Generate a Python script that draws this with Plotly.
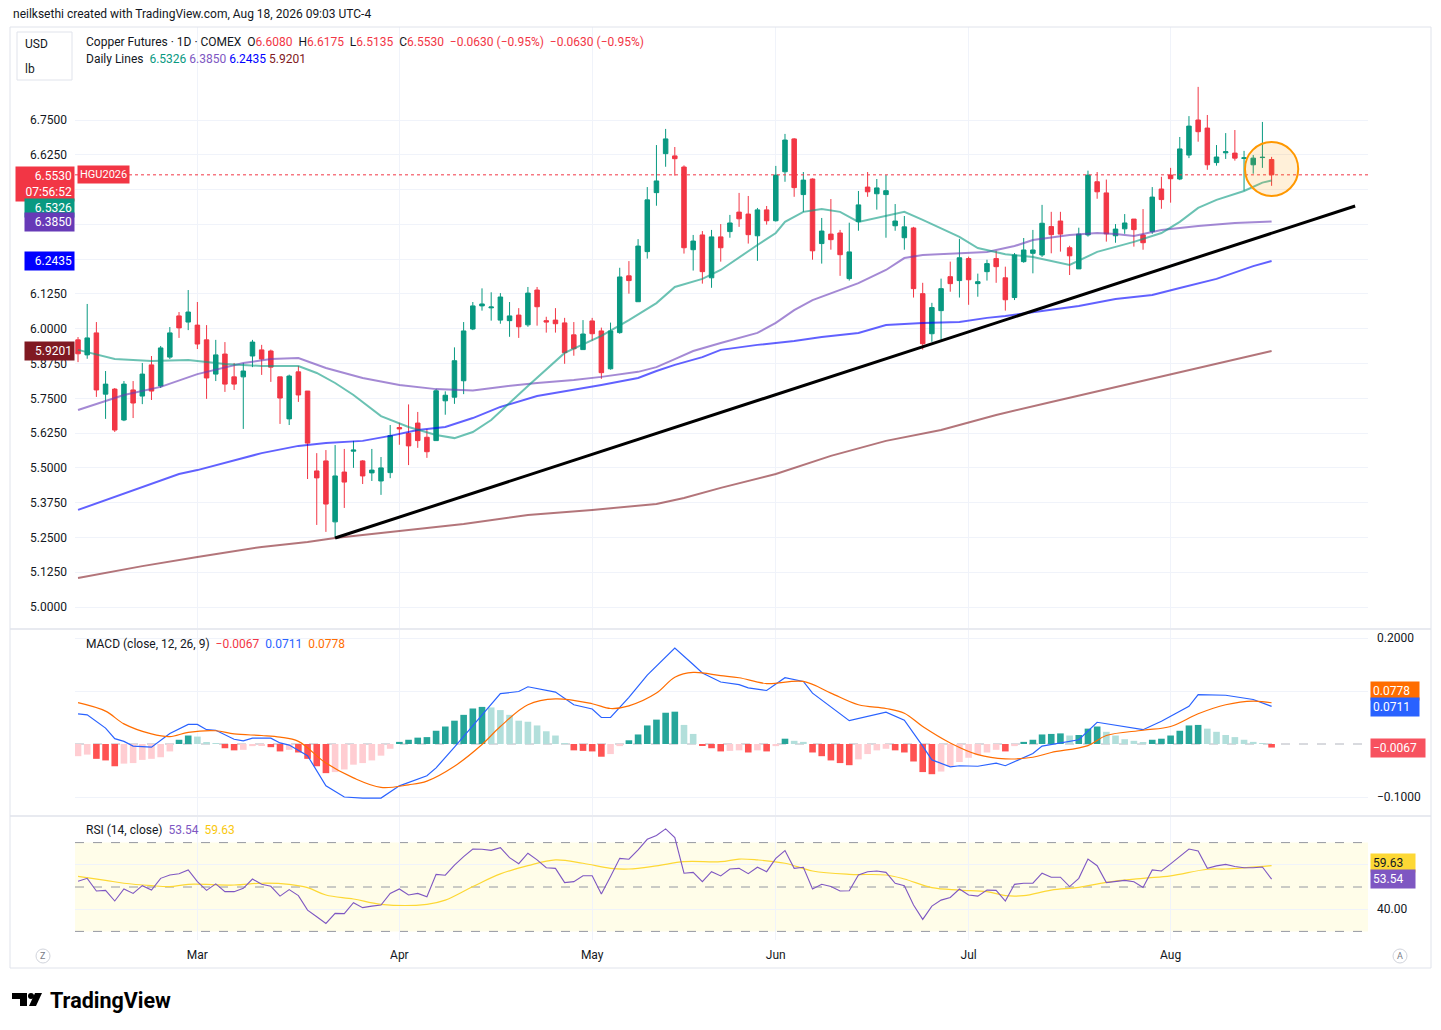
import pandas as pd
import plotly.graph_objects as go
from plotly.subplots import make_subplots

OFF = 8                      # page body margin of the browser
W, H = 1441 - OFF, 1030 - OFF
FONT = "Roboto, Arial, sans-serif"
TXT = "#131722"
def px(x): return (x - OFF) / W
def py(y): return 1 - (y - OFF) / H

# ---------------- data ----------------
holidays = ["2026-02-16", "2026-04-03", "2026-05-25", "2026-06-19", "2026-07-03"]
dates = [d.strftime("%Y-%m-%d") for d in pd.bdate_range("2026-02-10", "2026-08-18")
         if d.strftime("%Y-%m-%d") not in holidays]

opens = [5.960, 5.906, 5.985, 5.765, 5.783, 5.672, 5.780, 5.758, 5.870, 5.794,
         5.898, 6.046, 6.024, 6.013, 5.960, 5.837, 5.909, 5.827, 5.827, 5.902,
         5.924, 5.920, 5.827, 5.676, 5.845, 5.776, 5.489, 5.525, 5.306, 5.485,
         5.560, 5.525, 5.482, 5.453, 5.483, 5.645, 5.624, 5.661, 5.610, 5.598,
         5.741, 5.754, 5.813, 5.999, 6.082, 6.075, 6.031, 6.029, 6.049, 6.014,
         6.139, 6.029, 6.031, 6.021, 5.978, 5.925, 6.028, 5.992, 5.856, 5.986,
         6.190, 6.097, 6.277, 6.489, 6.629, 6.621, 6.581, 6.284, 6.337, 6.183,
         6.330, 6.349, 6.419, 6.412, 6.334, 6.427, 6.388, 6.564, 6.682, 6.482,
         6.538, 6.306, 6.340, 6.344, 6.180, 6.385, 6.509, 6.485, 6.482, 6.370,
         6.327, 6.362, 6.126, 5.982, 6.065, 6.187, 6.173, 6.252, 6.162, 6.205,
         6.252, 6.183, 6.112, 6.241, 6.271, 6.265, 6.367, 6.387, 6.291, 6.215,
         6.337, 6.528, 6.488, 6.334, 6.359, 6.394, 6.337, 6.349, 6.502, 6.552,
         6.538, 6.624, 6.750, 6.721, 6.597, 6.632, 6.631, 6.612, 6.589, 6.615,
         6.6080]
highs = [5.970, 6.089, 6.024, 5.848, 5.787, 5.812, 5.812, 5.877, 5.902, 5.938,
         6.006, 6.060, 6.139, 6.096, 6.013, 5.960, 5.952, 5.877, 5.877, 5.960,
         5.942, 5.925, 5.827, 5.835, 5.866, 5.776, 5.553, 5.564, 5.582, 5.568,
         5.597, 5.528, 5.568, 5.539, 5.654, 5.662, 5.728, 5.701, 5.639, 5.784,
         5.775, 5.933, 6.024, 6.096, 6.145, 6.131, 6.128, 6.096, 6.074, 6.150,
         6.150, 6.043, 6.074, 6.039, 6.024, 6.031, 6.039, 6.004, 6.022, 6.219,
         6.243, 6.322, 6.509, 6.660, 6.718, 6.653, 6.587, 6.337, 6.351, 6.355,
         6.376, 6.409, 6.488, 6.477, 6.434, 6.441, 6.585, 6.700, 6.685, 6.563,
         6.540, 6.398, 6.466, 6.355, 6.381, 6.495, 6.563, 6.538, 6.552, 6.448,
         6.405, 6.366, 6.165, 6.093, 6.180, 6.241, 6.323, 6.259, 6.198, 6.248,
         6.280, 6.223, 6.272, 6.326, 6.355, 6.445, 6.420, 6.420, 6.298, 6.363,
         6.568, 6.563, 6.536, 6.376, 6.412, 6.394, 6.430, 6.509, 6.546, 6.578,
         6.689, 6.764, 6.869, 6.768, 6.660, 6.703, 6.714, 6.639, 6.624, 6.743,
         6.6175]
lows = [5.880, 5.892, 5.755, 5.676, 5.629, 5.668, 5.679, 5.729, 5.744, 5.787,
        5.891, 5.967, 5.995, 5.927, 5.748, 5.812, 5.773, 5.780, 5.640, 5.862,
        5.834, 5.809, 5.658, 5.654, 5.737, 5.460, 5.295, 5.270, 5.248, 5.356,
        5.500, 5.442, 5.453, 5.403, 5.463, 5.583, 5.510, 5.572, 5.536, 5.598,
        5.691, 5.730, 5.765, 5.995, 6.065, 6.029, 6.018, 5.971, 5.967, 6.007,
        6.011, 5.986, 5.986, 5.874, 5.903, 5.925, 5.957, 5.820, 5.853, 5.982,
        6.126, 6.097, 6.252, 6.442, 6.582, 6.550, 6.270, 6.209, 6.162, 6.147,
        6.241, 6.327, 6.366, 6.306, 6.244, 6.374, 6.385, 6.528, 6.474, 6.420,
        6.248, 6.234, 6.284, 6.190, 6.173, 6.352, 6.474, 6.428, 6.327, 6.352,
        6.284, 6.112, 5.925, 5.953, 5.961, 6.133, 6.112, 6.086, 6.115, 6.173,
        6.165, 6.065, 6.103, 6.237, 6.199, 6.258, 6.271, 6.277, 6.193, 6.215,
        6.331, 6.467, 6.313, 6.309, 6.341, 6.295, 6.284, 6.341, 6.431, 6.453,
        6.534, 6.613, 6.672, 6.571, 6.586, 6.610, 6.604, 6.496, 6.557, 6.578,
        6.5135]
closes = [5.910, 5.967, 5.780, 5.801, 5.636, 5.801, 5.733, 5.837, 5.776, 5.931,
          5.985, 6.003, 6.060, 5.945, 5.823, 5.906, 5.801, 5.801, 5.848, 5.952,
          5.891, 5.862, 5.751, 5.830, 5.762, 5.589, 5.464, 5.370, 5.471, 5.449,
          5.564, 5.471, 5.492, 5.500, 5.616, 5.640, 5.579, 5.598, 5.558, 5.777,
          5.761, 5.885, 5.992, 6.082, 6.089, 6.078, 6.114, 6.046, 6.007, 6.128,
          6.079, 6.024, 6.018, 5.914, 5.928, 5.981, 5.982, 5.842, 5.992, 6.186,
          6.173, 6.297, 6.463, 6.531, 6.682, 6.611, 6.291, 6.315, 6.205, 6.330,
          6.291, 6.380, 6.395, 6.338, 6.427, 6.388, 6.552, 6.678, 6.507, 6.534,
          6.280, 6.351, 6.320, 6.266, 6.276, 6.445, 6.492, 6.506, 6.496, 6.387,
          6.366, 6.144, 5.946, 6.076, 6.144, 6.162, 6.255, 6.176, 6.169, 6.234,
          6.223, 6.104, 6.265, 6.283, 6.283, 6.379, 6.338, 6.340, 6.262, 6.340,
          6.552, 6.492, 6.341, 6.358, 6.380, 6.356, 6.309, 6.473, 6.464, 6.539,
          6.646, 6.728, 6.708, 6.589, 6.617, 6.636, 6.613, 6.614, 6.613, 6.616,
          6.5530]

# Daily lines (moving averages), read at sampled bars
ma_teal_idx = [0, 4, 8, 12, 16, 20, 24, 26, 28, 30, 33, 36, 39, 41, 43, 45, 49, 53, 57, 60,
               63, 65, 68, 70, 74, 76, 77, 79, 81, 83, 85, 87, 90, 92, 96, 98, 101, 104, 108,
               111, 115, 118, 120, 122, 124, 127, 129, 130]
ma_teal = [5.924, 5.891, 5.884, 5.888, 5.873, 5.866, 5.866, 5.841, 5.805, 5.762, 5.686, 5.647,
           5.618, 5.607, 5.629, 5.672, 5.794, 5.913, 5.974, 6.031, 6.092, 6.150, 6.179, 6.211,
           6.301, 6.344, 6.384, 6.420, 6.430, 6.420, 6.384, 6.398, 6.420, 6.391, 6.330, 6.290,
           6.268, 6.258, 6.229, 6.276, 6.312, 6.344, 6.384, 6.434, 6.463, 6.495, 6.525, 6.5326]
ma_purple_idx = [0, 2, 5, 9, 13, 18, 21, 24, 27, 31, 35, 39, 43, 46, 50, 54, 57, 61, 63, 65,
                 67, 70, 74, 76, 78, 80, 82, 85, 88, 90, 92, 96, 99, 102, 104, 108, 111, 113,
                 115, 118, 122, 126, 130]
ma_purple = [5.708, 5.730, 5.762, 5.791, 5.837, 5.877, 5.891, 5.895, 5.859, 5.823, 5.798,
             5.783, 5.778, 5.791, 5.805, 5.816, 5.827, 5.845, 5.862, 5.891, 5.920, 5.949,
             5.985, 6.021, 6.067, 6.103, 6.128, 6.164, 6.211, 6.254, 6.265, 6.272, 6.276,
             6.297, 6.319, 6.337, 6.344, 6.340, 6.333, 6.355, 6.369, 6.380, 6.3850]
ma_blue_idx = [0, 4, 7, 11, 13, 16, 20, 24, 27, 31, 34, 37, 40, 43, 46, 50, 54, 57, 61, 63,
               65, 68, 70, 74, 78, 81, 85, 88, 92, 96, 99, 101, 105, 109, 113, 117, 120, 124,
               128, 130]
ma_blue = [5.349, 5.395, 5.431, 5.478, 5.492, 5.517, 5.553, 5.579, 5.589, 5.597, 5.615,
           5.636, 5.647, 5.679, 5.719, 5.758, 5.780, 5.798, 5.823, 5.848, 5.870, 5.898,
           5.924, 5.942, 5.956, 5.970, 5.985, 6.013, 6.021, 6.024, 6.039, 6.046, 6.064,
           6.082, 6.107, 6.121, 6.146, 6.179, 6.225, 6.2435]
ma_brown_idx = [0, 7, 13, 20, 25, 28, 35, 42, 49, 56, 63, 66, 70, 76, 82, 88, 94, 100, 106,
                112, 119, 125, 130]
ma_brown = [5.104, 5.147, 5.180, 5.216, 5.234, 5.248, 5.273, 5.298, 5.331, 5.349, 5.370,
            5.392, 5.428, 5.478, 5.543, 5.597, 5.636, 5.690, 5.737, 5.783, 5.834, 5.880,
            5.9201]

# MACD (12, 26, 9)
macd_hist = [-0.023, -0.020, -0.028, -0.031, -0.042, -0.037, -0.036, -0.030, -0.028, -0.025,
             -0.014, 0.008, 0.016, 0.014, 0.002, 0.001, -0.008, -0.012, -0.011, -0.004,
             -0.003, -0.006, -0.014, -0.011, -0.016, -0.028, -0.042, -0.055, -0.053, -0.048,
             -0.039, -0.036, -0.031, -0.022, -0.009, 0.004, 0.008, 0.012, 0.013, 0.025,
             0.033, 0.044, 0.055, 0.067, 0.070, 0.069, 0.064, 0.055, 0.044, 0.042,
             0.035, 0.024, 0.016, 0.001, -0.012, -0.013, -0.014, -0.024, -0.019, -0.004,
             0.007, 0.018, 0.035, 0.046, 0.059, 0.061, 0.036, 0.019, -0.003, -0.008,
             -0.014, -0.013, -0.012, -0.016, -0.012, -0.014, -0.004, 0.010, 0.006, 0.004,
             -0.016, -0.023, -0.031, -0.036, -0.040, -0.029, -0.019, -0.012, -0.009, -0.012,
             -0.016, -0.033, -0.053, -0.057, -0.052, -0.042, -0.034, -0.026, -0.021, -0.016,
             -0.011, -0.014, -0.004, 0.004, 0.008, 0.018, 0.019, 0.020, 0.016, 0.017,
             0.029, 0.033, 0.023, 0.016, 0.009, 0.006, 0.003, 0.008, 0.010, 0.016,
             0.025, 0.035, 0.036, 0.029, 0.023, 0.017, 0.013, 0.008, 0.004, 0.001,
             -0.0067]
macd_idx = [0, 1, 3, 4, 5, 6, 8, 10, 12, 13, 14, 15, 17, 18, 19, 21, 22, 23, 25, 26, 27, 29,
            31, 33, 35, 38, 39, 41, 44, 46, 48, 49, 52, 54, 56, 57, 58, 60, 62, 64, 65, 67,
            68, 70, 72, 73, 75, 77, 79, 80, 84, 88, 90, 92, 93, 95, 96, 98, 100, 101, 103,
            104, 105, 108, 109, 111, 113, 116, 118, 121, 122, 125, 128, 130]
macd_line = [0.057, 0.055, 0.030, 0.010, 0.005, -0.004, -0.006, 0.020, 0.037, 0.037, 0.027,
             0.026, 0.009, 0.006, 0.011, 0.011, 0.002, -0.002, -0.022, -0.050, -0.079, -0.100,
             -0.102, -0.102, -0.079, -0.060, -0.045, -0.006, 0.055, 0.095, 0.099, 0.108, 0.098,
             0.074, 0.066, 0.050, 0.050, 0.088, 0.130, 0.165, 0.181, 0.150, 0.134, 0.117,
             0.112, 0.106, 0.101, 0.125, 0.118, 0.096, 0.044, 0.060, 0.045, -0.004, -0.030,
             -0.043, -0.041, -0.042, -0.036, -0.041, -0.026, -0.018, -0.004, 0.006, 0.008,
             0.041, 0.035, 0.027, 0.043, 0.071, 0.093, 0.092, 0.084, 0.0711]
signal_idx = [0, 3, 5, 8, 10, 12, 15, 17, 20, 22, 24, 27, 30, 33, 36, 38, 41, 44, 46, 49, 52,
              56, 58, 60, 63, 65, 67, 70, 72, 75, 79, 82, 85, 88, 90, 92, 95, 98, 101, 104,
              106, 110, 112, 116, 119, 122, 125, 128, 130]
signal_line = [0.078, 0.062, 0.038, 0.019, 0.014, 0.022, 0.025, 0.019, 0.016, 0.013, 0.005,
               -0.036, -0.064, -0.082, -0.077, -0.070, -0.042, -0.001, 0.033, 0.074, 0.085,
               0.076, 0.067, 0.072, 0.096, 0.126, 0.135, 0.129, 0.125, 0.114, 0.118, 0.096,
               0.074, 0.067, 0.058, 0.033, 0.002, -0.020, -0.028, -0.025, -0.016, -0.003,
               0.016, 0.026, 0.033, 0.057, 0.074, 0.081, 0.0778]

# RSI (14)
rsi = [52.6, 53.9, 48.2, 48.5, 43.7, 49.1, 47.1, 50.6, 48.6, 53.9,
       55.4, 56.0, 57.7, 52.4, 48.5, 51.4, 47.9, 47.9, 49.4, 53.6,
       51.2, 50.3, 45.9, 48.8, 46.1, 39.6, 36.6, 33.6, 38.1, 38.0,
       42.9, 40.7, 41.4, 41.9, 47.1, 49.1, 46.4, 47.1, 45.6, 55.7,
       55.3, 59.9, 63.7, 67.1, 67.0, 66.5, 67.7, 63.2, 60.5, 65.2,
       62.2, 58.7, 58.4, 52.0, 52.4, 55.1, 55.1, 46.8, 54.7, 62.9,
       62.5, 66.7, 71.5, 73.2, 76.2, 72.3, 56.2, 56.6, 52.4, 56.9,
       55.0, 58.1, 58.4, 56.0, 58.9, 56.9, 62.9, 66.4, 58.4, 58.9,
       49.1, 51.2, 50.2, 48.2, 48.3, 55.4, 56.9, 57.2, 56.6, 51.7,
       50.6, 41.9, 35.4, 41.4, 44.1, 45.3, 49.1, 46.4, 45.9, 48.6,
       48.5, 43.7, 51.2, 51.7, 51.7, 56.2, 54.4, 54.4, 50.2, 53.9,
       62.6, 59.6, 52.0, 52.4, 53.0, 52.4, 49.8, 57.7, 57.2, 60.4,
       63.7, 67.1, 66.2, 58.4, 59.5, 60.2, 59.2, 58.7, 58.7, 59.0,
       53.54]
rsi_ma_idx = [0, 3, 5, 8, 10, 12, 17, 20, 23, 25, 27, 30, 33, 38, 40, 43, 46, 49, 52, 55, 58,
              60, 63, 66, 70, 72, 74, 77, 80, 84, 88, 90, 93, 96, 99, 101, 103, 106, 109, 112,
              116, 119, 123, 125, 130]
rsi_ma = [54.8, 53.0, 51.7, 50.6, 50.2, 51.2, 50.9, 51.7, 51.2, 49.7, 46.4, 44.6, 42.2, 42.2,
          44.1, 50.2, 55.9, 59.6, 62.2, 60.7, 58.4, 58.1, 59.5, 61.4, 61.4, 62.6, 62.2, 60.7,
          57.2, 55.7, 55.4, 53.6, 49.7, 48.6, 47.9, 46.1, 46.1, 48.6, 49.8, 52.1, 53.9, 55.0,
          58.0, 58.1, 59.63]

month_ticks = ["2026-03-02", "2026-04-01", "2026-05-01", "2026-06-01", "2026-07-01", "2026-08-03"]
month_labels = ["Mar", "Apr", "May", "Jun", "Jul", "Aug"]
price_ticks = [5.0, 5.125, 5.25, 5.375, 5.5, 5.625, 5.75, 5.875, 6.0, 6.125, 6.25, 6.375, 6.5, 6.625, 6.75]

trend_start_bar, trend_start_price = 28, 5.248
trend_end_bar, trend_end_price = 139.1, 6.441
last_price = closes[-1]
prev_close = closes[-2]

assert len(dates) == len(opens) == len(highs) == len(lows) == len(closes) == len(rsi) == len(macd_hist) == 131

# --------------- figure ---------------
fig = make_subplots(rows=3, cols=1, shared_xaxes=True, vertical_spacing=0.0)

ma_specs = [(ma_brown_idx, ma_brown, "rgba(128,25,34,0.6)"),
            (ma_blue_idx, ma_blue, "rgba(0,0,255,0.62)"),
            (ma_purple_idx, ma_purple, "rgba(103,58,183,0.6)"),
            (ma_teal_idx, ma_teal, "rgba(8,153,129,0.6)")]
for idx, vals, col in ma_specs:
    fig.add_trace(go.Scatter(x=[dates[i] for i in idx], y=vals, mode="lines",
                             line=dict(color=col, width=2), hoverinfo="skip", showlegend=False),
                  row=1, col=1)

fig.add_trace(go.Candlestick(x=dates, open=opens, high=highs, low=lows, close=closes,
                             increasing=dict(line=dict(color="#089981", width=1), fillcolor="#089981"),
                             decreasing=dict(line=dict(color="#F23645", width=1), fillcolor="#F23645"),
                             showlegend=False, hoverinfo="skip"), row=1, col=1)

hist_colors = []
for k, v in enumerate(macd_hist):
    prev = macd_hist[k - 1] if k > 0 else v
    if v >= 0:
        hist_colors.append("#26A69A" if v > prev else "#B2DFDB")
    else:
        hist_colors.append("#FF5252" if v < prev else "#FFCDD2")
fig.add_trace(go.Bar(x=dates, y=macd_hist, marker=dict(color=hist_colors, line=dict(width=0)),
                     showlegend=False, hoverinfo="skip"), row=2, col=1)
fig.add_trace(go.Scatter(x=[dates[i] for i in macd_idx], y=macd_line, mode="lines",
                         line=dict(color="#2962FF", width=1.2), showlegend=False, hoverinfo="skip"),
              row=2, col=1)
fig.add_trace(go.Scatter(x=[dates[i] for i in signal_idx], y=signal_line, mode="lines",
                         line=dict(color="#FF6D00", width=1.2, shape="spline"), showlegend=False,
                         hoverinfo="skip"), row=2, col=1)

fig.add_trace(go.Scatter(x=[dates[i] for i in rsi_ma_idx], y=rsi_ma, mode="lines",
                         line=dict(color="#FDD835", width=1.2, shape="spline"), showlegend=False,
                         hoverinfo="skip"), row=3, col=1)
fig.add_trace(go.Scatter(x=dates, y=rsi, mode="lines", line=dict(color="#7E57C2", width=1.1),
                         showlegend=False, hoverinfo="skip"), row=3, col=1)

# axes
x_range = [-0.33, 140.5]
for r in (1, 2, 3):
    fig.update_xaxes(type="category", categoryorder="array", categoryarray=dates,
                     range=x_range, tickvals=month_ticks, ticktext=month_labels,
                     showgrid=True, gridcolor="#F0F3FA", gridwidth=1, zeroline=False,
                     showline=False, ticks="", rangeslider=dict(visible=False),
                     showticklabels=(r == 3), tickfont=dict(size=12, color=TXT, family=FONT),
                     ticklabelstandoff=6, domain=[px(75), px(1368)], row=r, col=1)

price_text = ["" if v in (6.25, 6.375, 6.5) else f"{v:.4f}" for v in price_ticks]
fig.update_layout(
    width=W, height=H, margin=dict(l=0, r=0, t=0, b=0),
    paper_bgcolor="white", plot_bgcolor="white", bargap=0.28,
    font=dict(family=FONT, color=TXT, size=12),
    yaxis=dict(domain=[py(628), py(27)], range=[6.75 - 508 / 278.3, 6.75 + 93 / 278.3],
               side="left", tickvals=price_ticks, ticktext=price_text,
               gridcolor="#F0F3FA", zeroline=False, showline=False, ticks="",
               ticklabelstandoff=7, tickfont=dict(size=12, color=TXT, family=FONT)),
    yaxis2=dict(domain=[py(815), py(630)], range=[-71 / 530, 114 / 530], side="right",
                tickvals=[-0.1, 0.1, 0.2], ticktext=["\u22120.1000", "", "0.2000"],
                gridcolor="#F0F3FA", zeroline=False, showline=False, ticks="",
                ticklabelstandoff=8, tickfont=dict(size=12, color=TXT, family=FONT)),
    yaxis3=dict(domain=[py(940), py(817)], range=[50 - 53 / 2.22, 50 + 70 / 2.22], side="right",
                tickvals=[40, 60], ticktext=["40.00", ""], gridcolor="#F0F3FA",
                zeroline=False, showline=False, ticks="", ticklabelstandoff=8,
                tickfont=dict(size=12, color=TXT, family=FONT)),
)

shapes = []
# RSI band and levels
shapes.append(dict(type="rect", xref="x3 domain", yref="y3", x0=0, x1=1, y0=30, y1=70,
                   fillcolor="rgba(255,235,59,0.11)", line=dict(width=0), layer="below"))
for lvl in (70, 50, 30):
    shapes.append(dict(type="line", xref="x3 domain", yref="y3", x0=0, x1=1, y0=lvl, y1=lvl,
                       line=dict(color="#9598A1", width=1, dash="dash"), layer="below"))
# MACD zero line
shapes.append(dict(type="line", xref="x2 domain", yref="y2", x0=0, x1=1, y0=0, y1=0,
                   line=dict(color="#B2B5BE", width=1, dash="dash"), layer="below"))
# last price dotted line
shapes.append(dict(type="line", xref="x domain", yref="y", x0=0, x1=1, y0=last_price, y1=last_price,
                   line=dict(color="#F23645", width=1, dash="dot")))
# trend line
shapes.append(dict(type="line", xref="x", yref="y", x0=trend_start_bar, y0=trend_start_price,
                   x1=trend_end_bar, y1=trend_end_price, line=dict(color="#000000", width=3)))
# highlight circle
shapes.append(dict(type="circle", xref="x", yref="y", x0=127.1, x1=132.9, y0=6.477, y1=6.671,
                   line=dict(color="#FF9800", width=2), fillcolor="rgba(255,152,0,0.15)"))
# frame and pane separators
shapes.append(dict(type="rect", xref="paper", yref="paper", x0=px(10), x1=px(1431), y0=py(968),
                   y1=py(27), line=dict(color="#E0E3EB", width=1)))
for yy in (629, 816):
    shapes.append(dict(type="line", xref="paper", yref="paper", x0=px(10), x1=px(1431), y0=py(yy),
                       y1=py(yy), line=dict(color="#E0E3EB", width=1.5)))
# USD / lb box
shapes.append(dict(type="rect", xref="paper", yref="paper", x0=px(17), x1=px(72), y0=py(80),
                   y1=py(32), line=dict(color="#E0E3EB", width=1), fillcolor="white"))
# Z / A buttons
for cx in (43, 1400):
    shapes.append(dict(type="circle", xref="paper", yref="paper", x0=px(cx - 7), x1=px(cx + 7),
                       y0=py(963), y1=py(949), line=dict(color="#D1D4DC", width=1)))
# TradingView logo glyph
shapes.append(dict(type="path", xref="paper", yref="paper",
                   path=f"M {px(12)},{py(993)} L {px(27)},{py(993)} L {px(27)},{py(1006)} "
                        f"L {px(20)},{py(1006)} L {px(20)},{py(999)} L {px(12)},{py(999)} Z",
                   fillcolor="#000000", line=dict(width=0)))
shapes.append(dict(type="circle", xref="paper", yref="paper", x0=px(28), x1=px(34), y0=py(999),
                   y1=py(993), fillcolor="#000000", line=dict(width=0)))
shapes.append(dict(type="path", xref="paper", yref="paper",
                   path=f"M {px(35)},{py(993)} L {px(42)},{py(993)} L {px(36)},{py(1006)} "
                        f"L {px(29)},{py(1006)} Z", fillcolor="#000000", line=dict(width=0)))

RED = "#F23645"
def red(t): return f"<span style='color:{RED}'>{t}</span>"
def fmt(v): return f"{v:.4f}".replace("-", "\u2212")
chg = last_price - prev_close
pct = chg / prev_close * 100
chg_txt = f"{chg:+.4f} ({pct:+.2f}%)".replace("-", "\u2212")
NB = "\u00a0"
line1 = (f"Copper Futures · 1D · COMEX{NB}{NB}O{red(fmt(opens[-1]))}{NB}{NB}H{red(fmt(highs[-1]))}"
         f"{NB}{NB}L{red(fmt(lows[-1]))}{NB}{NB}C{red(fmt(closes[-1]))}{NB}{NB}{red(chg_txt)}{NB}{NB}{red(chg_txt)}")
line2 = (f"Daily Lines{NB}{NB}<span style='color:#089981'>{ma_teal[-1]:.4f}</span>{NB}"
         f"<span style='color:#7E57C2'>{ma_purple[-1]:.4f}</span>{NB}"
         f"<span style='color:#0000FF'>{ma_blue[-1]:.4f}</span>{NB}"
         f"<span style='color:#801922'>{ma_brown[-1]:.4f}</span>")
macd_leg = (f"MACD (close, 12, 26, 9){NB}{NB}<span style='color:#F23645'>{fmt(macd_hist[-1])}</span>{NB}{NB}"
            f"<span style='color:#2962FF'>{fmt(macd_line[-1])}</span>{NB}{NB}"
            f"<span style='color:#FF6D00'>{fmt(signal_line[-1])}</span>")
rsi_leg = (f"RSI (14, close){NB}{NB}<span style='color:#7E57C2'>{rsi[-1]:.2f}</span>{NB}{NB}"
           f"<span style='color:#F9C80E'>{rsi_ma[-1]:.2f}</span>")

ann = []
def text(t, x, y, size=12, color=TXT, xanchor="left"):
    ann.append(dict(text=t, x=px(x), y=py(y), xref="paper", yref="paper", xanchor=xanchor,
                    yanchor="middle", showarrow=False, font=dict(size=size, color=color, family=FONT)))
text("neilksethi created with TradingView.com, Aug 18, 2026 09:03 UTC-4", 11, 14)
text(line1, 84, 42)
text(line2, 84, 59)
text("USD", 23, 44)
text("lb", 23, 69)
text(macd_leg, 84, 644)
text(rsi_leg, 84, 830)
text("Z", 43, 956, size=9, color="#787B86", xanchor="center")
text("A", 1400, 956, size=9, color="#787B86", xanchor="center")
text("<b>TradingView</b>", 48, 1000, size=21.5, color="#000000")

def tag(t, y, yref, bg, x, xanchor, fg="white", yshift=0, width=None, size=12, yanchor="middle"):
    d = dict(text=t, x=px(x), y=y, xref="paper", yref=yref, xanchor=xanchor, yanchor=yanchor,
             showarrow=False, bgcolor=bg, borderpad=2, yshift=yshift,
             font=dict(size=size, color=fg, family=FONT), align="right" if xanchor == "right" else "left")
    if width:
        d["width"] = width
    ann.append(d)

tag(f"{last_price:.4f}<br>07:56:52", last_price, "y", RED, 75, "right", yshift=9, width=54,
    yanchor="top")
tag("HGU2026", last_price, "y", RED, 77, "left", size=11)
tag(f"{ma_teal[-1]:.4f}", ma_teal[-1], "y", "#089981", 75, "right", yshift=-27, width=45)
tag(f"{ma_purple[-1]:.4f}", ma_purple[-1], "y", "#673AB7", 75, "right", width=45)
tag(f"{ma_blue[-1]:.4f}", ma_blue[-1], "y", "#0000FF", 75, "right", width=45)
tag(f"{ma_brown[-1]:.4f}", ma_brown[-1], "y", "#801922", 75, "right", width=45)

tag(fmt(signal_line[-1]), signal_line[-1], "y2", "#FF6D00", 1370, "left", yshift=12, width=44)
tag(fmt(macd_line[-1]), macd_line[-1], "y2", "#2962FF", 1370, "left", yshift=-1, width=44)
tag(fmt(macd_hist[-1]), macd_hist[-1], "y2", "#F7525F", 1370, "left", width=50)
tag(f"{rsi_ma[-1]:.2f}", rsi_ma[-1], "y3", "#FDD835", 1370, "left", fg=TXT, yshift=3, width=40)
tag(f"{rsi[-1]:.2f}", rsi[-1], "y3", "#7E57C2", 1370, "left", width=40)

fig.update_layout(shapes=shapes, annotations=ann)
fig.write_html("out.html")
